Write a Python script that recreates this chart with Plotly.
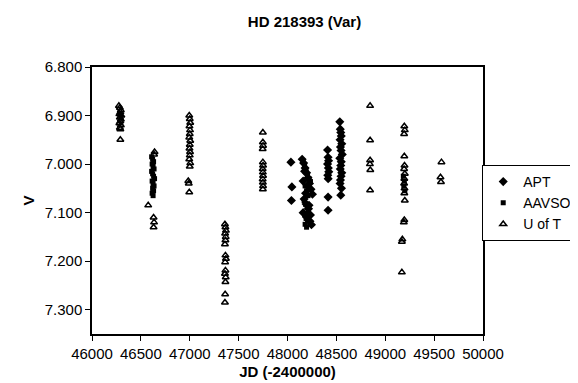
import plotly.graph_objects as go

# ---- data ----
apt_jd = [48035, 48045, 48040,
          48150, 48165, 48180, 48195, 48210, 48225, 48240, 48255, 48170, 48190, 48215, 48160, 48200, 48230, 48245,
          48160, 48185, 48205, 48220, 48175, 48235,
          48410, 48415, 48420, 48410, 48418, 48422, 48412, 48416, 48415, 48415,
          48535, 48540, 48545, 48550, 48538, 48555, 48542, 48548, 48560, 48535, 48550, 48545, 48540, 48555, 48548, 48542, 48538, 48552, 48545]
apt_v = [6.996, 7.047, 7.075,
         6.990, 6.998, 7.008, 7.018, 7.028, 7.040, 7.052, 7.062, 7.072, 7.082, 7.092, 7.100, 7.110, 7.118, 7.125,
         7.035, 7.060, 7.045, 7.085, 7.015, 7.105,
         6.971, 6.986, 6.993, 7.000, 7.008, 7.016, 7.023, 7.030, 7.068, 7.095,
         6.913, 6.928, 6.935, 6.942, 6.950, 6.958, 6.965, 6.972, 6.980, 6.988, 6.995, 7.003, 7.010, 7.018, 7.025, 7.033, 7.040, 7.050, 7.064]

aavso_jd = [46285, 46295,
            46610, 46620, 46630, 46615, 46625, 46635, 46610, 46620, 46630, 46640, 46615, 46625, 46635, 46620, 46630, 46615, 46625,
            48160, 48175, 48190, 48205, 48220, 48235, 48180, 48195, 48210, 48170, 48185, 48200, 48215, 48175, 48190, 48205, 48180, 48195,
            49185, 49195, 49190, 49200]
aavso_v = [6.895, 6.905,
           6.985, 6.990, 6.995, 7.000, 7.005, 7.010, 7.015, 7.020, 7.025, 7.030, 7.035, 7.040, 7.045, 7.050, 7.055, 7.060, 7.065,
           6.995, 7.005, 7.012, 7.022, 7.030, 7.036, 7.045, 7.055, 7.065, 7.075, 7.083, 7.090, 7.098, 7.105, 7.112, 7.118, 7.124, 7.130,
           7.025, 7.035, 7.045, 7.055]

uoft_jd = [46275, 46285, 46295, 46290, 46280, 46300, 46285, 46295, 46290, 46280, 46295, 46285, 46290, 46290,
           46640, 46635, 46575, 46630, 46635, 46630,
           46995, 47000, 47005, 46997, 47003, 47000, 46995, 47005, 47000, 46997, 47003, 47000, 46995, 47005, 47000, 46985, 46990, 46995,
           47360, 47365, 47370, 47362, 47368, 47365, 47360, 47365, 47370, 47362, 47365, 47360, 47368, 47365, 47362, 47360,
           47748, 47748, 47750, 47746, 47748, 47750, 47746, 47748, 47750, 47746, 47748, 47750, 47748,
           48845, 48845, 48845, 48843, 48847, 48845,
           49195, 49200, 49193, 49195, 49197, 49193, 49200, 49195, 49193, 49197, 49195, 49200, 49195, 49190, 49175, 49170, 49170,
           49575, 49565, 49570]
uoft_v = [6.880, 6.884, 6.889, 6.893, 6.897, 6.900, 6.904, 6.908, 6.912, 6.916, 6.920, 6.925, 6.928, 6.950,
          6.975, 6.980, 7.085, 7.110, 7.120, 7.130,
          6.900, 6.907, 6.915, 6.922, 6.930, 6.938, 6.945, 6.952, 6.960, 6.968, 6.975, 6.982, 6.990, 6.998, 7.005, 7.035, 7.040, 7.058,
          7.124, 7.130, 7.137, 7.143, 7.150, 7.157, 7.165, 7.188, 7.195, 7.202, 7.219, 7.226, 7.233, 7.243, 7.268, 7.285,
          6.935, 6.955, 6.962, 6.969, 6.996, 7.003, 7.010, 7.017, 7.024, 7.031, 7.038, 7.045, 7.052,
          6.880, 6.951, 6.992, 7.000, 7.012, 7.054,
          6.922, 6.930, 6.938, 6.984, 7.003, 7.010, 7.020, 7.030, 7.040, 7.050, 7.060, 7.075, 7.115, 7.120, 7.155, 7.160, 7.223,
          6.996, 7.027, 7.037]

x_ticks = [46000, 46500, 47000, 47500, 48000, 48500, 49000, 49500, 50000]
y_ticks = [6.8, 6.9, 7.0, 7.1, 7.2, 7.3]

FONT = "Liberation Sans, Arial, sans-serif"

fig = go.Figure()
fig.add_trace(go.Scatter(x=apt_jd, y=apt_v, mode="markers", name="APT",
                         marker=dict(symbol="diamond", size=7, color="black")))
fig.add_trace(go.Scatter(x=aavso_jd, y=aavso_v, mode="markers", name="AAVSO",
                         marker=dict(symbol="square", size=5, color="black")))
fig.add_trace(go.Scatter(x=uoft_jd, y=uoft_v, mode="markers", name="U of T",
                         marker=dict(symbol="triangle-up-open", size=6, color="black",
                                     line=dict(width=1.5, color="black"))))

fig.update_layout(
    width=578, height=383,
    margin=dict(l=84, r=103, t=59, b=57, autoexpand=False),
    paper_bgcolor="white", plot_bgcolor="white",
    font=dict(family=FONT, size=15, color="black"),
    title=dict(text="<b>HD 218393 (Var)</b>", x=0.513, xanchor="center", y=0.965, yanchor="middle",
               font=dict(family=FONT, size=15, color="black")),
    showlegend=True,
    legend=dict(x=0.998, y=0.633, xanchor="left", yanchor="top",
                bordercolor="black", borderwidth=1, bgcolor="white",
                font=dict(family=FONT, size=14, color="black"),
                tracegroupgap=0, itemwidth=30),
)
fig.update_xaxes(range=[46000, 50000], tickvals=x_ticks, ticktext=[str(v) for v in x_ticks],
                 showgrid=False, zeroline=False, showline=True, linecolor="black", linewidth=1.5,
                 mirror=True, ticks="outside", ticklen=5, tickcolor="black",
                 title=dict(text="<b>JD (-2400000)</b>", font=dict(family=FONT, size=15), standoff=6))
fig.update_yaxes(range=[7.35, 6.8], tickvals=y_ticks, ticktext=["%.3f" % v for v in y_ticks],
                 showgrid=False, zeroline=False, showline=True, linecolor="black", linewidth=1.5,
                 mirror=True, ticks="outside", ticklen=5, tickcolor="black",
                 title=dict(text="<b>V</b>", font=dict(family=FONT, size=15), standoff=6))

fig.write_html("out.html")
